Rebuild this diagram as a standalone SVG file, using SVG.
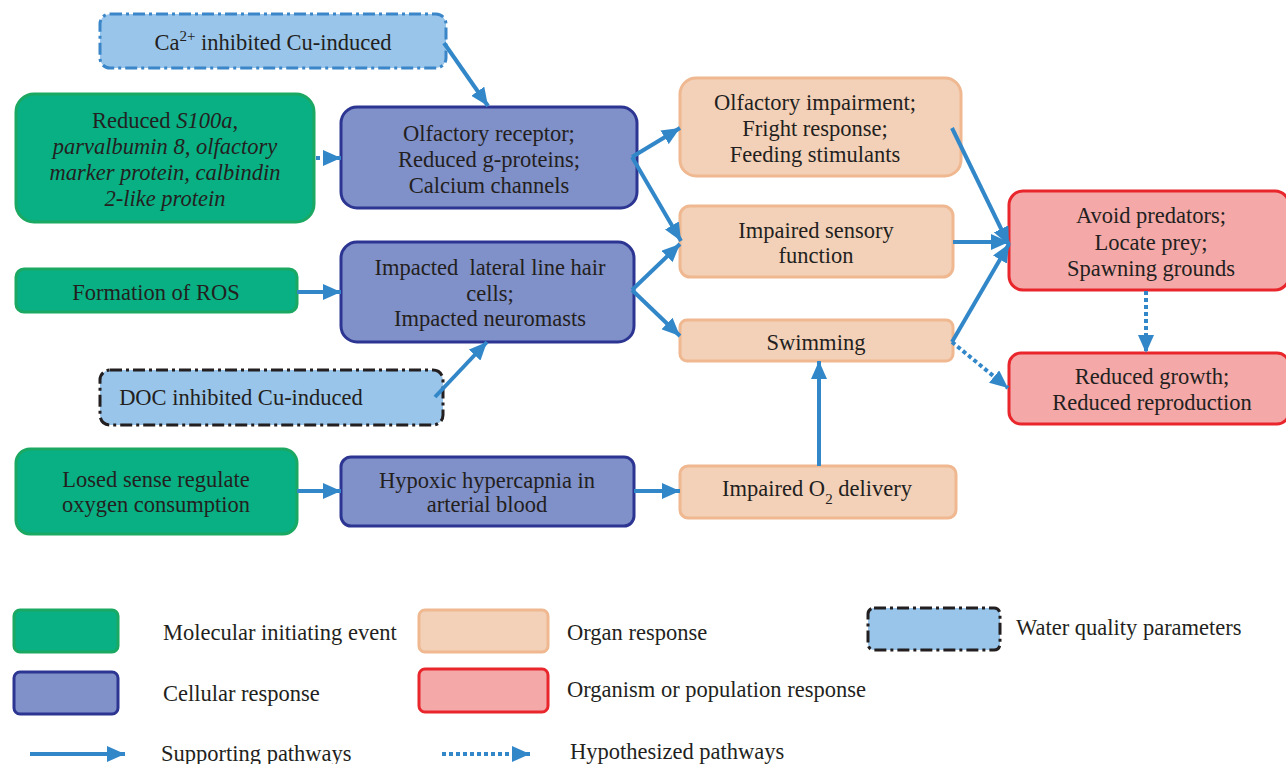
<svg xmlns="http://www.w3.org/2000/svg" width="1286" height="764" viewBox="0 0 1286 764">
<defs>
<marker id="ah" markerUnits="userSpaceOnUse" markerWidth="20" markerHeight="16" refX="18" refY="8" orient="auto"><path d="M0,0 L18,8 L0,16 Z" fill="#3287c9"/></marker>
<style>
text{font-family:"Liberation Serif","Times New Roman",serif;font-size:22.5px;fill:#231f20;text-anchor:middle}
.lg{text-anchor:start}
.mie{fill:#08b084;stroke:#1aa862;stroke-width:3}
.cell{fill:#8090c8;stroke:#2c3592;stroke-width:3}
.organ{fill:#f3d1b9;stroke:#efb890;stroke-width:3}
.org{fill:#f4a9a8;stroke:#e8262c;stroke-width:3}
.wq{fill:#99c5ea;stroke:#231f20;stroke-width:3;stroke-dasharray:12 4 3 4}
.wqb{fill:#99c5ea;stroke:#3a86c8;stroke-width:3;stroke-dasharray:12 4 3 4}
.sp{stroke:#3287c9;stroke-width:4;fill:none;marker-end:url(#ah)}
.hp{stroke:#3287c9;stroke-width:4;fill:none;stroke-dasharray:4 3;marker-end:url(#ah)}
</style>
</defs>
<g id="ca"><rect class="wqb" x="100" y="14" width="346" height="54" rx="10"/><text x="273" y="50">Ca<tspan font-size="15" dy="-9">2+</tspan><tspan dy="9"> inhibited Cu-induced</tspan></text></g>
<g id="s100"><rect class="mie" x="16" y="94" width="298" height="128" rx="18"/><text x="165" y="128">Reduced <tspan font-style="italic">S100a</tspan>,</text><text x="165" y="154" font-style="italic">parvalbumin 8, olfactory</text><text x="165" y="180" font-style="italic">marker protein, calbindin</text><text x="165" y="206" font-style="italic">2-like protein</text></g>
<g id="olfrec"><rect class="cell" x="341" y="107" width="296" height="101" rx="16"/><text x="489" y="141">Olfactory receptor;</text><text x="489" y="167">Reduced g-proteins;</text><text x="489" y="193">Calcium channels</text></g>
<g id="ros"><rect class="mie" x="16" y="269" width="281" height="43" rx="8"/><text x="156" y="300">Formation of ROS</text></g>
<g id="lateral"><rect class="cell" x="341" y="242" width="293" height="100" rx="16"/><text x="490" y="275" style="white-space:pre">Impacted  lateral line hair</text><text x="490" y="301">cells;</text><text x="490" y="326">Impacted neuromasts</text></g>
<g id="doc"><rect class="wq" x="100" y="370" width="343" height="55" rx="10"/><text x="241" y="405">DOC inhibited Cu-induced</text></g>
<g id="losed"><rect class="mie" x="16" y="449" width="281" height="85" rx="14"/><text x="156" y="487">Losed sense regulate</text><text x="156" y="512">oxygen consumption</text></g>
<g id="hypoxic"><rect class="cell" x="341" y="457" width="293" height="69" rx="10"/><text x="487" y="488">Hypoxic hypercapnia in</text><text x="487" y="512">arterial blood</text></g>
<g id="olfimp"><rect class="organ" x="680" y="78" width="281" height="98" rx="16"/><text x="815" y="110">Olfactory impairment;</text><text x="815" y="136">Fright response;</text><text x="815" y="162">Feeding stimulants</text></g>
<g id="sensory"><rect class="organ" x="680" y="206" width="273" height="71" rx="10"/><text x="816" y="238">Impaired sensory</text><text x="816" y="263">function</text></g>
<g id="swim"><rect class="organ" x="680" y="320" width="273" height="41" rx="7"/><text x="816" y="350">Swimming</text></g>
<g id="o2"><rect class="organ" x="680" y="466" width="276" height="52" rx="8"/><text x="817" y="496">Impaired O<tspan font-size="15" dy="8">2</tspan><tspan dy="-8"> delivery</tspan></text></g>
<g id="avoid"><rect class="org" x="1009" y="191" width="280" height="99" rx="14"/><text x="1151" y="223">Avoid predators;</text><text x="1151" y="250">Locate prey;</text><text x="1151" y="276">Spawning grounds</text></g>
<g id="growth"><rect class="org" x="1009" y="353" width="280" height="71" rx="12"/><text x="1152" y="384">Reduced growth;</text><text x="1152" y="410">Reduced reproduction</text></g>
<g id="connectors">
<line class="sp" x1="444" y1="43" x2="488" y2="106"/>
<line class="hp" x1="316" y1="158" x2="341" y2="158"/>
<line class="sp" x1="297" y1="292" x2="341" y2="292"/>
<line class="sp" x1="435" y1="397" x2="487" y2="342"/>
<line class="sp" x1="297" y1="491" x2="341" y2="491"/>
<line class="sp" x1="634" y1="491" x2="680" y2="491"/>
<line class="sp" x1="819" y1="466" x2="819" y2="361"/>
<line class="sp" x1="632" y1="157" x2="680" y2="128"/>
<line class="sp" x1="632" y1="157" x2="681" y2="241"/>
<line class="sp" x1="632" y1="290" x2="680" y2="244"/>
<line class="sp" x1="632" y1="290" x2="680" y2="336"/>
<line class="sp" x1="952" y1="128" x2="1009" y2="245"/>
<line class="sp" x1="953" y1="242" x2="1009" y2="242"/>
<line class="sp" x1="952" y1="342" x2="1009" y2="244"/>
<line class="hp" x1="952" y1="342" x2="1008" y2="388"/>
<line class="hp" x1="1146" y1="291" x2="1146" y2="353"/>
</g>
<g id="legend">
<rect class="mie" x="14" y="610" width="104" height="42" rx="6"/><text class="lg" x="163" y="640">Molecular initiating event</text>
<rect class="cell" x="14" y="672" width="104" height="42" rx="6"/><text class="lg" x="163" y="701">Cellular response</text>
<rect class="organ" x="419" y="610" width="129" height="42" rx="6"/><text class="lg" x="567" y="640">Organ response</text>
<rect class="org" x="419" y="669" width="129" height="43" rx="6"/><text class="lg" x="567" y="697">Organism or population response</text>
<rect class="wq" x="868" y="608" width="132" height="42" rx="6"/><text class="lg" x="1016" y="635">Water quality parameters</text>
<line class="sp" x1="30" y1="754" x2="125" y2="754"/><text class="lg" x="161" y="761">Supporting pathways</text>
<line class="hp" x1="442" y1="754" x2="530" y2="754"/><text class="lg" x="570" y="759">Hypothesized pathways</text>
</g>
</svg>
